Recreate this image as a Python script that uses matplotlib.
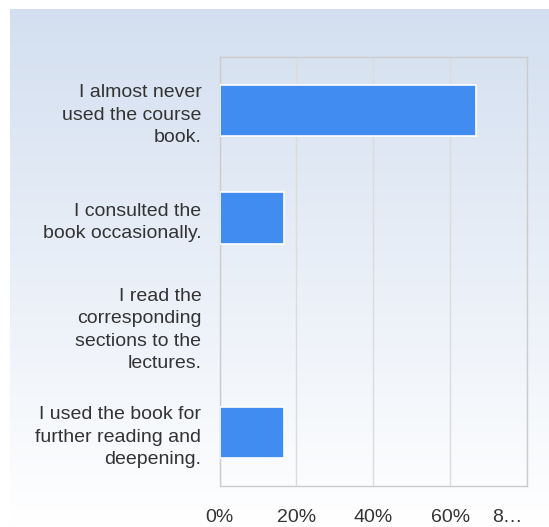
import numpy as np
import matplotlib.pyplot as plt
from matplotlib.transforms import ScaledTranslation

# data
categories = [
    "I almost never\nused the course\nbook.",
    "I consulted the\nbook occasionally.",
    "I read the\ncorresponding\nsections to the\nlectures.",
    "I used the book for\nfurther reading and\ndeepening.",
]
values = [66.7, 16.7, 0.0, 16.7]
tick_vals = [0, 20, 40, 60, 80]
tick_labels = ["0%", "20%", "40%", "60%", "8…"]

plt.rcParams['font.family'] = ['Liberation Sans', 'DejaVu Sans']

W, H = 549, 527
fig = plt.figure(figsize=(W / 100, H / 100), dpi=100)
fig.patch.set_facecolor('white')

# gradient background panel
bg = fig.add_axes([10 / W, 0, 1 - 10 / W, 1 - 9 / H], zorder=0)
top = np.array([211, 223, 240]) / 255
bot = np.array([255, 255, 255]) / 255
t = np.linspace(0, 1, 256)[:, None]
grad = top[None, :] * (1 - t) + bot[None, :] * t
bg.imshow(grad[:, None, :], aspect='auto', extent=[0, 1, 0, 1])
bg.axis('off')

# plot area
ax = fig.add_axes([219.5 / W, 1 - 486 / H, (527 - 219.5) / W, (486 - 57) / H], zorder=1)
ax.patch.set_alpha(0)

y = np.arange(len(categories))
ax.barh(y, values, height=0.48, color='#418CF0', edgecolor='white',
        linewidth=[1.2 if v > 0 else 0 for v in values], zorder=3)

ax.set_xlim(0, 80)
ax.set_ylim(len(categories) - 0.5, -0.5)
ax.set_xticks(tick_vals)
ax.set_xticklabels(tick_labels)
ax.set_yticks(y)
ax.set_yticklabels(categories, ha='right', linespacing=1.42)

ax.grid(axis='x', color='#dcdcdc', linewidth=1, zorder=0)
for s in ax.spines.values():
    s.set_color('#cccccc')
    s.set_linewidth(1)

ax.tick_params(axis='both', length=0, colors='#333333', labelsize=14)
ax.tick_params(axis='x', pad=16.5)
ax.tick_params(axis='y', pad=13)

# last tick label is truncated and pulled inside the chart
last = ax.get_xticklabels()[-1]
last.set_transform(last.get_transform() + ScaledTranslation(-0.2, 0, fig.dpi_scale_trans))

fig.savefig('out.png', dpi=100)
